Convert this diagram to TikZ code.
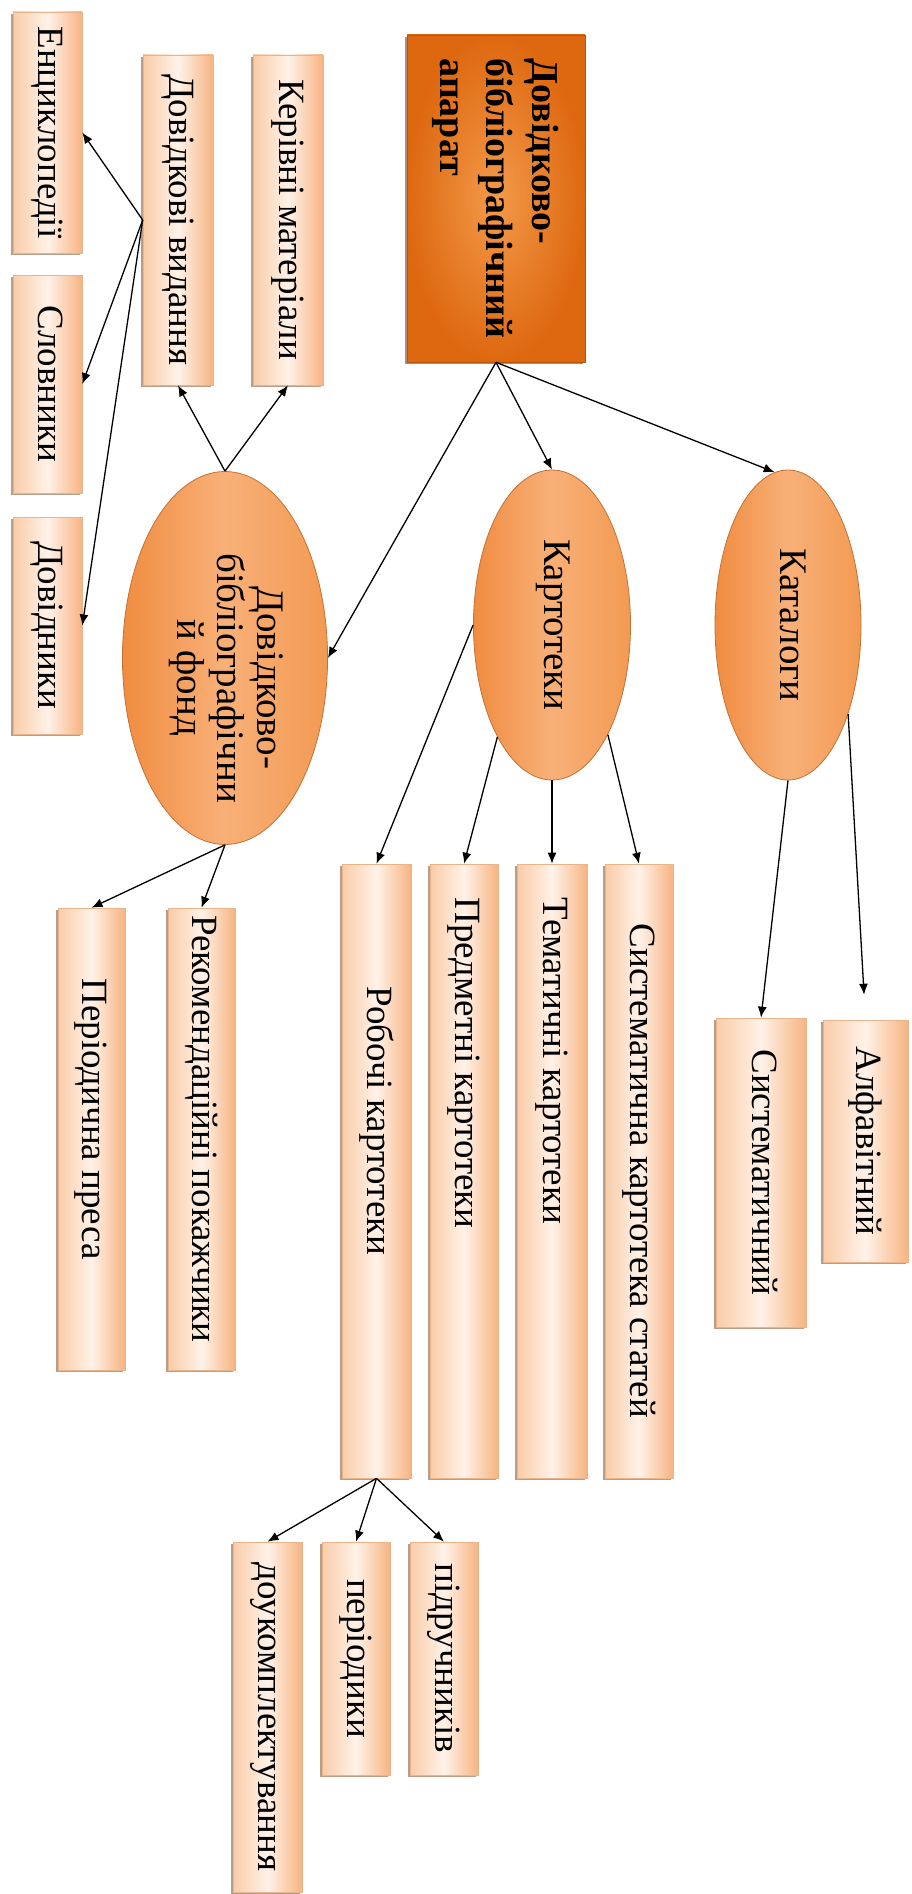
\documentclass[tikz,border=0pt]{standalone}
\usepackage{fontspec}
\setmainfont{Liberation Serif}
\usepackage{graphicx}
\usetikzlibrary{shapes.geometric}
\usetikzlibrary{shadows}
\usetikzlibrary{arrows.meta}

\definecolor{peachL}{HTML}{F9CCA8}
\definecolor{peachM}{HTML}{FFF2E8}
\definecolor{peachR}{HTML}{F6B482}
\definecolor{peachEdge}{HTML}{E9B48C}
\definecolor{shadeDark}{HTML}{9A7358}
\definecolor{ovalL}{HTML}{F08C40}
\definecolor{ovalM}{HTML}{F8B078}
\definecolor{ovalR}{HTML}{F39A52}
\definecolor{ovalEdge}{HTML}{C27035}
\definecolor{topIn}{HTML}{F39A4A}
\definecolor{topOut}{HTML}{DE6810}
\definecolor{topEdge}{HTML}{B5540C}

\tikzset{
    pbox/.style={
        rectangle, inner sep=0pt, draw=peachEdge, line width=0.6pt,
        left color=peachL, right color=peachR, middle color=peachM,
        drop shadow={shadow xshift=-1.6pt, shadow yshift=-1.6pt, fill=shadeDark, opacity=0.7},
        font=\fontsize{37}{44}\selectfont
    },
    topbox/.style={
        rectangle, inner sep=0pt, draw=topEdge, line width=0.6pt,
        inner color=topIn, outer color=topOut,
        drop shadow={shadow xshift=-2pt, shadow yshift=-2pt, fill=shadeDark, opacity=0.8},
        font=\bfseries\fontsize{38}{46}\selectfont
    },
    oval/.style={
        ellipse, inner sep=0pt, draw=ovalEdge, line width=0.8pt,
        left color=ovalL, right color=ovalR, middle color=ovalM,
        font=\fontsize{39}{40}\selectfont
    },
    arr/.style={-{Latex[length=11pt,width=9pt]}, line width=1.3pt, black}
}
% rotated text, shifted down the page by #2
\newcommand{\downtext}[3][c]{\rotatebox{-90}{\hspace*{#2}\begin{tabular}{@{}#1@{}}#3\end{tabular}\hspace*{-#2}}}
\newcommand{\slab}[7] {
	\node[pbox, minimum width=#4pt, minimum height=#5pt] (#1) at (#2,#3) {\downtext{#7}{#6}};
}

\begin{document}
\begin{tikzpicture}[x=1pt,y=-1pt]
		\useasboundingbox (0,0) rectangle (912,1894);

		% head box
		\node[topbox, minimum width=178pt, minimum height=327pt] (apparat) at (496,198.5)
			{\downtext[l]{0pt}{Довідково-\\бібліографічний\\апарат}};

		% ovals
		\node[oval, minimum width=205pt, minimum height=373pt] (fond) at (225,658)
			{\downtext{20pt}{Довідково-\\бібліографічни\\й фонд}};
		\node[oval, minimum width=157pt, minimum height=310pt] (kartoteky) at (552,625) {\downtext{0pt}{Картотеки}};
		\node[oval, minimum width=146pt, minimum height=310pt] (katalogy) at (788,625) {\downtext{0pt}{Каталоги}};

		% fund side
		\slab{dovvyd}{178}{220}{70}{330}{Довідкові видання}{0pt}
		\slab{kerivni}{288}{220}{70}{330}{Керівні матеріали}{0pt}
		\slab{encykl}{47.5}{132.5}{69}{241}{Енциклопедії}{0pt}
		\slab{slovnyky}{47.5}{384}{69}{218}{Словники}{0pt}
		\slab{dovidnyky}{47.5}{625.5}{69}{217}{Довідники}{0pt}
		\slab{periodpr}{91.5}{1139}{67}{462}{Періодична преса}{-20pt}
		\slab{rekom}{201.5}{1139}{67}{462}{Рекомендаційні покажчики}{-10pt}

		% card files side
		\slab{robochi}{376.5}{1171}{69}{614}{Робочі картотеки}{-50pt}
		\slab{predmetni}{464}{1171}{68}{614}{Предметні картотеки}{-108pt}
		\slab{tematychni}{552}{1171}{70}{614}{Тематичні картотеки}{-110pt}
		\slab{systkart}{639}{1171}{68}{614}{Систематична картотека статей}{0pt}
		\slab{pidruch}{444}{1658.5}{68}{233}{підручників}{0pt}
		\slab{periodyky}{356}{1658.5}{68}{233}{періодики}{0pt}
		\slab{douk}{267.5}{1717}{69}{350}{доукомплектування}{0pt}

		% catalogue side
		\slab{systemat}{761}{1172.5}{90}{309}{Систематичний}{0pt}
		\slab{alfavit}{865.5}{1141}{85}{242}{Алфавітний}{0pt}

		% connectors
		\draw[arr] (apparat.south) -- (fond.east);
		\draw[arr] (apparat.south) -- (kartoteky.north);
		\draw[arr] (apparat.south) -- (katalogy.95);

		\draw[arr] (fond.north) -- (dovvyd.south);
		\draw[arr] (fond.north) -- (kerivni.south);
		\draw[arr] (dovvyd.west) -- (encykl.east);
		\draw[arr] (dovvyd.west) -- (slovnyky.east);
		\draw[arr] (dovvyd.west) -- (dovidnyky.east);
		\draw[arr] (fond.south) -- (periodpr.north);
		\draw[arr] (fond.south) -- (rekom.north);

		\draw[arr] (kartoteky.west) -- (robochi.north);
		\draw[arr] (kartoteky.244) -- (predmetni.north);
		\draw[arr] (kartoteky.south) -- (tematychni.north);
		\draw[arr] (kartoteky.297) -- (systkart.north);
		\draw[arr] (robochi.south) -- (pidruch.north);
		\draw[arr] (robochi.south) -- (periodyky.north);
		\draw[arr] (robochi.south) -- (douk.north);

		\draw[arr] (katalogy.south) -- (systemat.north);
		\draw[arr, shorten >=25pt] (katalogy.-56) -- (alfavit.north);

	\end{tikzpicture}
\end{document}
